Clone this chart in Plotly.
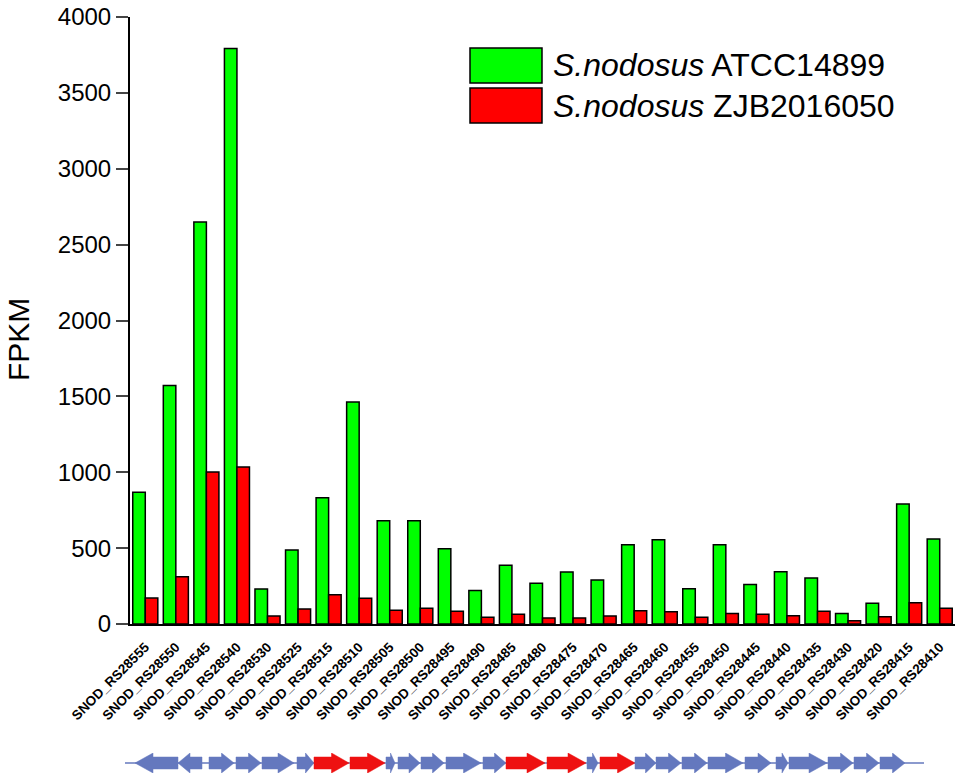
import plotly.graph_objects as go

# expression data (FPKM) per gene
genes = ["SNOD_RS28555", "SNOD_RS28550", "SNOD_RS28545", "SNOD_RS28540", "SNOD_RS28530",
         "SNOD_RS28525", "SNOD_RS28515", "SNOD_RS28510", "SNOD_RS28505", "SNOD_RS28500",
         "SNOD_RS28495", "SNOD_RS28490", "SNOD_RS28485", "SNOD_RS28480", "SNOD_RS28475",
         "SNOD_RS28470", "SNOD_RS28465", "SNOD_RS28460", "SNOD_RS28455", "SNOD_RS28450",
         "SNOD_RS28445", "SNOD_RS28440", "SNOD_RS28435", "SNOD_RS28430", "SNOD_RS28420",
         "SNOD_RS28415", "SNOD_RS28410"]
atcc14899 = [868, 1572, 2649, 3793, 231, 488, 832, 1463, 681, 681,
             496, 220, 387, 268, 343, 290, 523, 556, 233, 523,
             261, 345, 303, 70, 136, 791, 560]
zjb2016050 = [171, 312, 1002, 1035, 53, 99, 193, 169, 90, 103,
              84, 44, 64, 40, 40, 53, 88, 81, 44, 70,
              64, 55, 84, 22, 48, 140, 103]

# gene cluster map (relative positions along the locus)
map_start = [10, 53, 84, 111, 137, 172, 189, 225, 261, 273, 296, 321, 358, 381,
             422, 462, 475, 510, 531, 557, 583, 620, 651, 664, 703, 729, 755]
map_end = [53, 77, 109, 136, 169, 189, 224, 260, 270, 295, 319, 356, 381, 420,
           461, 473, 510, 531, 556, 582, 618, 646, 663, 702, 728, 754, 780]
map_strand = [-1, -1] + [1] * 25
map_red = [6, 7, 13, 14, 16]
locus_len = 799

W, H = 957, 779
L, R, T, B = 100, 0, 17, 0
FONT = "Arial, Liberation Sans, sans-serif"
BLUE = "#6478BE"
RED_GENE = "#EE1111"


def px2x(px):
    return (px - L) / (W - L - R)


def py2y(py):
    return (H - B - py) / (H - T - B)


fig = go.Figure()
fig.add_trace(go.Bar(x=genes, y=atcc14899, name="ATCC14899", marker_color="#00FF00",
                     marker_line=dict(color="black", width=1.5), showlegend=False))
fig.add_trace(go.Bar(x=genes, y=zjb2016050, name="ZJB2016050", marker_color="#FF0000",
                     marker_line=dict(color="black", width=1.5), showlegend=False))

# gene map
fig.add_trace(go.Scatter(x=[0, locus_len], y=[0, 0], mode="lines", line=dict(color=BLUE, width=1.5),
                         xaxis="x2", yaxis="y2", showlegend=False, hoverinfo="skip"))
for i, (s, e, d) in enumerate(zip(map_start, map_end, map_strand)):
    ln = e - s
    hd = min(18, 0.5 * ln)
    b, h = 0.6, 1.0
    if d > 0:
        xs = [s, e - hd, e - hd, e, e - hd, e - hd, s, s]
    else:
        xs = [e, s + hd, s + hd, s, s + hd, s + hd, e, e]
    ys = [-b, -b, -h, 0, h, b, b, -b]
    col = RED_GENE if i in map_red else BLUE
    fig.add_trace(go.Scatter(x=xs, y=ys, mode="lines", fill="toself", fillcolor=col,
                             line=dict(color=col, width=0.5), xaxis="x2", yaxis="y2",
                             showlegend=False, hoverinfo="skip"))

# legend drawn by hand (large swatches)
shapes = []
annotations = []
for (y0, y1, col, strain) in [(48, 83, "#00FF00", "ATCC14899"), (88, 123, "#FF0000", "ZJB2016050")]:
    shapes.append(dict(type="rect", xref="paper", yref="paper", x0=px2x(470), x1=px2x(542),
                       y0=py2y(y1), y1=py2y(y0), fillcolor=col, line=dict(color="black", width=1.5)))
    annotations.append(dict(xref="paper", yref="paper", x=px2x(551), y=py2y((y0 + y1) / 2),
                            xanchor="left", yanchor="middle", showarrow=False,
                            text="<i>S.nodosus</i> " + strain, font=dict(size=32, color="black", family=FONT)))
annotations.append(dict(xref="paper", yref="paper", x=px2x(18), y=py2y(340), text="FPKM", textangle=-90,
                        showarrow=False, xanchor="center", yanchor="middle",
                        font=dict(size=30, color="black", family=FONT)))

fig.update_layout(
    width=W, height=H, margin=dict(l=L, r=R, t=T, b=B),
    paper_bgcolor="white", plot_bgcolor="white",
    barmode="group", bargap=0.18, bargroupgap=0,
    font=dict(family=FONT, color="black"),
    xaxis=dict(domain=[px2x(130), px2x(955)], range=[-0.5, 26.5], showline=True, linecolor="black",
               linewidth=2, ticks="outside", ticklen=8, tickcolor="rgba(0,0,0,0)", tickangle=-45,
               showgrid=False, automargin=False,
               tickfont=dict(size=13.5, family=FONT, color="black", weight="bold"),
               anchor="y"),
    yaxis=dict(domain=[py2y(624), py2y(17)], range=[0, 4000], tickvals=list(range(0, 4001, 500)),
               showline=True, linecolor="black", linewidth=2, ticks="outside", ticklen=12, tickwidth=2,
               showgrid=False, zeroline=False, automargin=False,
               tickfont=dict(size=24, color="black", family=FONT), anchor="x"),
    xaxis2=dict(domain=[0, 1], range=[-(125 - L), W - L - R - (125 - L)], visible=False, anchor="y2"),
    yaxis2=dict(domain=[py2y(773), py2y(753)], range=[-1, 1], visible=False, anchor="x2"),
    shapes=shapes, annotations=annotations,
)

fig.write_html("out.html", post_script="document.body.style.margin='0';",
               config={"displayModeBar": False})
